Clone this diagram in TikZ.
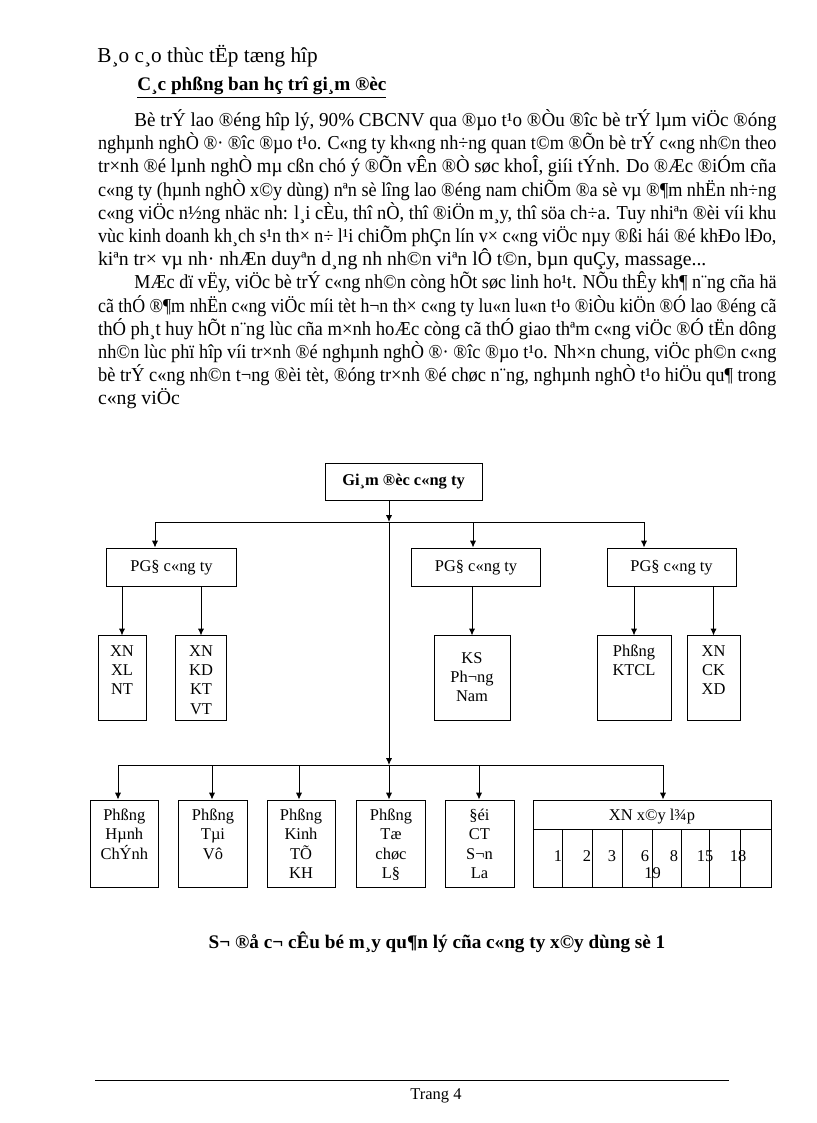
\documentclass[tikz,border=0pt]{standalone}
\usepackage{fontspec}
\usepackage{graphicx}
\setmainfont{Liberation Serif}
\usetikzlibrary{arrows.meta}

% justified line of the text block (squeezed when too long)
\newlength\linenat
\newcommand{\jline}[2][494.6pt]{\settowidth{\linenat}{#2}%
    \ifdim\linenat>#1\relax\resizebox{#1}{\height}{#2}\else\makebox[#1][s]{#2}\fi}
% box text, set from the top
\newcommand{\unitlines}[4][15pt]{\parbox[c][#3][t]{#2}{\centering\rule{0pt}{#1}#4}}

\begin{document}
\begin{tikzpicture}[x=0.7292pt,y=-0.7292pt,line width=0.7pt,
    >={Latex[length=5pt,width=4.5pt]},
    txt/.style={anchor=base west,inner sep=0pt,font=\fontsize{14.4}{17}\selectfont},
    unit/.style={draw,inner sep=0pt,font=\fontsize{12}{14}\selectfont},
    num/.style={inner sep=0pt,font=\fontsize{12}{14}\selectfont}]
    \fill[white] (0,0) rectangle (816,1123);
    \useasboundingbox (0,0) rectangle (816,1123);

    % page text
    \node[txt,font=\fontsize{15.5}{18}\selectfont] (title) at (97,63) {B¸o c¸o thùc tËp tæng hîp};
    \node[txt,font=\fontsize{14}{17}\selectfont\bfseries] (head) at (137,91) {\underline{C¸c phßng ban hç trî gi¸m ®èc}};

    \node[txt] (l1) at (134,126.5) {\jline[468.2pt]{Bè trÝ lao ®éng hîp lý, 90\% CBCNV  qua ®µo t¹o ®Òu ®îc  bè trÝ lµm viÖc ®óng}};
    \node[txt] (l2) at (97.6,149.7) {\jline{nghµnh  nghÒ ®· ®îc  ®µo t¹o. C«ng ty kh«ng nh÷ng quan t©m ®Õn bè trÝ c«ng nh©n theo}};
    \node[txt] (l3) at (97.6,172.9) {\jline{tr×nh ®é lµnh nghÒ mµ cßn chó ý ®Õn vÊn ®Ò søc khoÎ, giíi tÝnh. Do ®Æc ®iÓm cña}};
    \node[txt] (l4) at (97.6,196.1) {\jline{c«ng ty (hµnh nghÒ x©y dùng) nªn sè lîng  lao ®éng nam chiÕm ®a sè vµ ®¶m nhËn nh÷ng}};
    \node[txt] (l5) at (97.6,219.3) {\jline{c«ng viÖc n½ng nhäc nh:  l¸i cÈu, thî nÒ, thî ®iÖn m¸y, thî söa ch÷a. Tuy nhiªn ®èi víi khu}};
    \node[txt] (l6) at (97.6,242.5) {\jline{vùc kinh doanh kh¸ch s¹n th× n÷ l¹i chiÕm phÇn lín v× c«ng viÖc nµy  ®ßi hái ®é khÐo lÐo,}};
    \node[txt] (l7) at (97.6,265.7) {kiªn tr× vµ nh· nhÆn duyªn d¸ng nh  nh©n viªn lÔ t©n, bµn quÇy, massage...};
    \node[txt] (l8) at (134,288.9) {\jline[468.2pt]{MÆc dï vËy, viÖc bè trÝ c«ng nh©n còng hÕt søc linh ho¹t. NÕu thÊy kh¶ n¨ng cña hä}};
    \node[txt] (l9) at (97.6,312.1) {\jline{cã thÓ ®¶m nhËn c«ng viÖc míi tèt h¬n th× c«ng ty lu«n lu«n t¹o ®iÒu kiÖn ®Ó lao ®éng cã}};
    \node[txt] (l10) at (97.6,335.3) {\jline{thÓ ph¸t huy hÕt n¨ng lùc cña m×nh hoÆc còng cã thÓ giao thªm c«ng viÖc ®Ó tËn dông}};
    \node[txt] (l11) at (97.6,358.5) {\jline{nh©n lùc phï hîp víi tr×nh ®é nghµnh  nghÒ ®· ®îc  ®µo t¹o. Nh×n chung, viÖc ph©n c«ng}};
    \node[txt] (l12) at (97.6,381.7) {\jline{bè trÝ c«ng nh©n t¬ng  ®èi tèt, ®óng tr×nh ®é chøc n¨ng, nghµnh  nghÒ t¹o hiÖu qu¶ trong}};
    \node[txt] (l13) at (97.6,404.9) {c«ng viÖc};

    % boxes
    \node[unit,minimum width=114.5pt,minimum height=27pt,font=\fontsize{12}{14}\selectfont\bfseries] (gd) at (403.5,481.5) {Gi¸m ®èc c«ng ty};
    \node[unit,minimum width=94.1pt,minimum height=28.4pt] (pgd1) at (171.5,567.5) {PG§ c«ng ty};
    \node[unit,minimum width=94.1pt,minimum height=28.4pt] (pgd2) at (476,567.5) {PG§ c«ng ty};
    \node[unit,minimum width=94.1pt,minimum height=28.4pt] (pgd3) at (671.5,567.5) {PG§ c«ng ty};

    \node[unit] (xl) at (122,678) {\unitlines{35pt}{61.3pt}{XN\\XL\\NT}};
    \node[unit] (kd) at (201,678) {\unitlines{36.5pt}{61.3pt}{XN\\KD\\KT\\VT}};
    \node[unit] (ks) at (472,678) {\unitlines[20pt]{55.4pt}{61.3pt}{KS\\Ph¬ng\\Nam}};
    \node[unit] (ktcl) at (634,678) {\unitlines{54pt}{61.3pt}{Phßng\\KTCL}};
    \node[unit] (ck) at (713.5,678) {\unitlines{38.6pt}{61.3pt}{XN\\CK\\XD}};

    \node[unit] (hc) at (124.3,843.5) {\unitlines{50pt}{63.4pt}{Phßng\\Hµnh\\ChÝnh}};
    \node[unit] (tv) at (213,843.5) {\unitlines{50.8pt}{63.4pt}{Phßng\\Tµi\\Vô}};
    \node[unit] (kt) at (301,843.5) {\unitlines{49.6pt}{63.4pt}{Phßng\\Kinh\\TÕ\\KH}};
    \node[unit] (tc) at (391,843.5) {\unitlines{51pt}{63.4pt}{Phßng\\Tæ\\chøc\\L§}};
    \node[unit] (dct) at (479.5,843.5) {\unitlines{50.3pt}{63.4pt}{§éi\\CT\\S¬n\\La}};
    \node[unit] (xnxl) at (652,843.5) {\unitlines{173.5pt}{63.4pt}{XN x©y l¾p}};

    % units of XN xay lap
    \draw (xnxl.west |- 0,829) -- (xnxl.east |- 0,829);
    \foreach \x in {562.3,592.3,622.3,652.3,681,709.3,740}
        \draw (\x,829) -- (\x,887);
    \foreach \n/\x in {1/558,2/587,3/612,6/645,8/674,15/705,18/738}
        \node[num] (n\n) at (\x,856) {\n};
    \node[num] (n19) at (652.7,873) {19};

    % connectors
    \coordinate (j0) at (389,522);
    \coordinate (j1) at (155,522);
    \coordinate (j2) at (473,522);
    \coordinate (j3) at (644,522);
    \coordinate (k0) at (389,765);
    \coordinate (k1) at (118,765);
    \coordinate (k2) at (212,765);
    \coordinate (k3) at (299,765);
    \coordinate (k5) at (479,765);
    \coordinate (k6) at (663,765);

    \draw[->] (gd.south -| j0) -- (j0);
    \draw (j1) -- (j3);
    \draw[->] (j1) -- (j1 |- pgd1.north);
    \draw[->] (j2) -- (j2 |- pgd2.north);
    \draw[->] (j3) -- (j3 |- pgd3.north);

    \draw[->] (pgd1.south -| xl.north) -- (xl.north);
    \draw[->] (pgd1.south -| kd.north) -- (kd.north);
    \draw[->] (pgd2.south -| ks.north) -- (ks.north);
    \draw[->] (pgd3.south -| ktcl.north) -- (ktcl.north);
    \draw[->] (pgd3.south -| ck.north) -- (ck.north);

    \draw[->] (j0) -- (k0);
    \draw (k1) -- (k6);
    \foreach \k/\b in {k1/hc,k2/tv,k3/kt,k0/tc,k5/dct,k6/xnxl}
        \draw[->] (\k) -- (\k |- \b.north);

    % caption and footer
    \node[anchor=base,inner sep=0pt,font=\fontsize{14}{17}\selectfont\bfseries] (cap) at (437,948) {S¬ ®å c¬ cÊu bé m¸y qu¶n lý cña c«ng ty x©y dùng sè 1};
    \coordinate (fl) at (95,1080);
    \coordinate (fr) at (729,1080);
    \draw[line width=0.5pt] (fl) -- (fr);
    \node[anchor=base,inner sep=0pt,font=\fontsize{12}{14}\selectfont] (page) at (436,1099) {Trang 4};
\end{tikzpicture}
\end{document}
